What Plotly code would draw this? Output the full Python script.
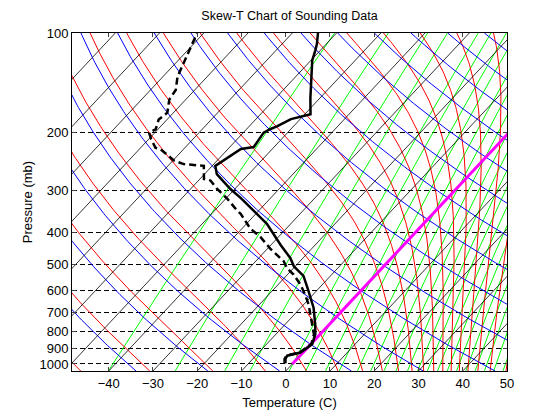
import numpy as np
import plotly.graph_objects as go

# ---------------- sounding data ----------------
p_temp = [995, 966, 944, 923, 871, 813, 759, 676, 597, 542, 507, 479, 437, 377, 344,
          315, 296, 282, 267, 252, 246, 235, 224, 221, 200, 195, 191, 182, 179, 176,
          157, 121, 113, 108, 100]
t_temp = [-1.7, -2.6, -2.9, -0.6, 0.3, -1.1, -3.2, -7.1, -12.1, -16.1, -20.3, -22.8, -27.8, -35.4, -41.2,
          -46.8, -51.0, -53.9, -57.2, -59.3, -58.8, -58.0, -57.1, -54.6, -55.4, -54.6, -53.7, -52.1, -50.5, -48.7,
          -52.2, -59.7, -61.1, -62.1, -64.2]

p_dew = [995, 966, 944, 923, 871, 813, 759, 661, 617, 575, 537, 513, 490, 448, 413,
         390, 352, 344, 317, 296, 279, 276, 252, 251, 249, 243, 224.5, 222, 209, 200,
         195.5, 182.5, 174, 159, 148.6, 135.5, 123.5, 110, 100]
t_dew = [-1.9, -2.8, -3.1, -0.8, 0.1, -1.4, -3.9, -8.9, -11.8, -15.0, -18.6, -21.5, -23.6, -29.4, -34.1,
         -38.1, -43.4, -44.9, -49.6, -54.0, -57.3, -59.1, -61.9, -64.3, -66.8, -69.7, -75.2, -76.7, -79.5, -81.3,
         -80.5, -81.9, -81.4, -83.7, -84.3, -86.7, -88.1, -90.0, -91.5]

# ---------------- background line sets ----------------
iso_T = [-130, -120, -110, -100, -90, -80, -70, -60, -50, -40, -30, -20, -10, 0, 10, 20, 30, 40, 50]
# potential temperatures (K) of the dry adiabats
dry_theta_K = [172, 188, 204, 220, 236, 252, 268, 284, 300, 316, 332, 348, 364, 380, 396, 412,
               428, 444, 460, 476, 492, 508, 524, 540]
# moist adiabats: potential temperature (K) of their starting points on the 100 mb level
moist_theta_top_K = [176, 192, 208, 224, 240, 256, 272, 288, 304, 320, 336, 352, 368, 384, 400, 416,
                     432, 448, 464, 480, 496, 512, 528, 544]
# mixing-ratio lines: temperature (C) where each crosses the bottom (1050 mb) edge
mix_T_base = [-40.1, -25.0, -13.8, -8.1, 0.8, 4.5, 9.0, 12.1, 16.2, 19.2, 22.2, 24.9, 27.5, 29.8,
              32.0, 34.3, 36.5, 38.6, 40.7, 42.8, 44.9, 47.0, 49.1]

x_ticks = [-40, -30, -20, -10, 0, 10, 20, 30, 40, 50]
p_ticks = [100, 200, 300, 400, 500, 600, 700, 800, 900, 1000]

# ---------------- skew-T geometry ----------------
P_BASE = 1050.0
SKEW = 70.0
X_MIN, X_MAX = -48.3, 50.0
KAPPA = 0.2857


def skew(T, p):
    return np.asarray(T, float) + SKEW * np.log10(P_BASE / np.asarray(p, float))


def esat(T):
    return 6.112 * np.exp(17.67 * T / (T + 243.5))


def theta_e(T, p):
    TK = T + 273.15
    es = np.minimum(esat(T), 0.5 * p)
    r = 622.0 * es / (p - es)
    th = TK * (1000.0 / p) ** (0.2854 * (1 - 0.00028 * r))
    return th * np.exp((3.376 / TK - 0.00254) * r * (1 + 0.00081 * r))


pp = np.logspace(np.log10(P_BASE), 2, 160)


def join(xs_list):
    X, Y = [], []
    for xs in xs_list:
        X += [None if np.isnan(v) else float(v) for v in xs] + [None]
        Y += list(pp) + [None]
    return X, Y


iso_x = [skew(np.full_like(pp, t), pp) for t in iso_T]
dry_x = [skew(th * (pp / 1000.0) ** KAPPA - 273.15, pp) for th in dry_theta_K]

moist_x = []
for th in moist_theta_top_K:
    t_top = th * (100.0 / 1000.0) ** KAPPA - 273.15
    target = theta_e(np.array(t_top), 100.0)
    lo = np.full_like(pp, -170.0)
    hi = X_MAX + 6 - SKEW * np.log10(P_BASE / pp)
    flo, fhi = theta_e(lo, pp), theta_e(hi, pp)
    a, b = lo.copy(), hi.copy()
    for _ in range(60):
        m = 0.5 * (a + b)
        below = theta_e(m, pp) < target
        a = np.where(below, m, a)
        b = np.where(below, b, m)
    T = 0.5 * (a + b)
    T = np.where((target < flo) | (target > fhi), np.nan, T)
    moist_x.append(skew(T, pp))

mix_x = []
for tb in mix_T_base:
    e0 = esat(tb)
    w = 0.622 * e0 / (P_BASE - e0)
    es = w * pp / (0.622 + w)
    L = np.log(es / 6.112)
    mix_x.append(skew(243.5 * L / (17.67 - L), pp))

fig = go.Figure()


def add(xs_list, color, width):
    X, Y = join(xs_list)
    fig.add_trace(go.Scatter(x=X, y=Y, mode="lines", line=dict(color=color, width=width),
                             hoverinfo="skip", showlegend=False))


add(mix_x, "#00ff00", 1)
add(moist_x, "#ff0000", 1)
add(dry_x, "#0000ff", 1)
add(iso_x, "#000000", 0.8)

p0 = np.logspace(3, 2, 50)
fig.add_trace(go.Scatter(x=skew(np.zeros_like(p0), p0), y=p0, mode="lines",
                         line=dict(color="#ff00ff", width=3), showlegend=False, hoverinfo="skip"))

fig.add_trace(go.Scatter(x=skew(t_dew, p_dew), y=p_dew, mode="lines",
                         line=dict(color="black", width=2.5, dash="7px,4px"), showlegend=False))
fig.add_trace(go.Scatter(x=skew(t_temp, p_temp), y=p_temp, mode="lines",
                         line=dict(color="black", width=2.5), showlegend=False))

font = dict(family="Liberation Sans, Arial, sans-serif", size=13, color="black")
fig.update_layout(
    width=560, height=420,
    margin=dict(l=72, r=53, t=33, b=46),
    paper_bgcolor="white", plot_bgcolor="white",
    font=font,
    title=dict(text="Skew-T Chart of Sounding Data", x=289.5 / 560, xanchor="center",
               y=1 - 16 / 420, yanchor="middle", font=dict(size=12.5)),
    xaxis=dict(range=[X_MIN, X_MAX], tickvals=x_ticks, ticks="inside", ticklen=4,
               showline=True, linecolor="black", linewidth=1, mirror="ticks",
               showgrid=False, zeroline=False, tickfont=dict(size=13),
               title=dict(text="Temperature (C)", standoff=8, font=dict(size=13))),
    yaxis=dict(type="log", range=[np.log10(P_BASE), 2], tickvals=p_ticks,
               ticktext=[str(v) for v in p_ticks], ticks="inside", ticklen=4,
               showline=True, linecolor="black", linewidth=1, mirror="ticks",
               showgrid=True, gridcolor="black", gridwidth=1, griddash="5px,3px",
               zeroline=False, tickfont=dict(size=13),
               title=dict(text="Pressure (mb)", standoff=3, font=dict(size=13))),
)

fig.write_html("out.html")
